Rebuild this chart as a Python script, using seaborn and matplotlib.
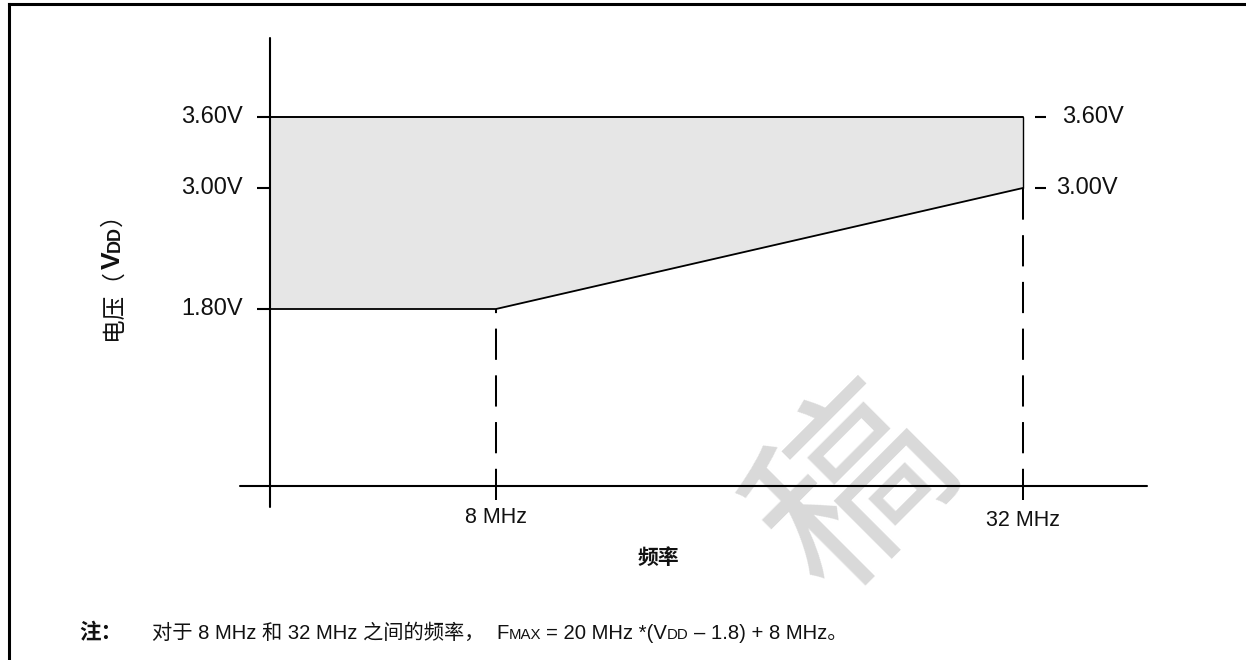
import numpy as np
import matplotlib
matplotlib.use("Agg")
import matplotlib.pyplot as plt
import seaborn as sns
from matplotlib.transforms import blended_transform_factory

# ---- data -------------------------------------------------------------
freq_mhz = [8, 32]                 # corner frequencies
vdd_min_v = [1.8, 3.0]             # minimum VDD at those frequencies
vdd_max_v = 3.6                    # maximum VDD
left_ticks_v = [3.6, 3.0, 1.8]
left_tick_labels = ["3.60V", "3.00V", "1.80V"]
right_ticks_v = [3.6, 3.0]
right_tick_labels = ["3.60V", "3.00V"]
freq_tick_labels = ["8 MHz", "32 MHz"]

# ---- figure setup -----------------------------------------------------
W, H, DPI = 1246, 660, 100
PX = 72.0 / DPI                    # points per pixel

sns.set_theme(style="white")
plt.rcParams["font.family"] = ["Liberation Sans", "Noto Sans CJK SC"]
LATIN = ["Liberation Sans", "Noto Sans CJK SC"]
CJK = ["Noto Sans CJK SC", "Liberation Sans"]
INK = "#111111"

fig = plt.figure(figsize=(W / DPI, H / DPI), dpi=DPI)
fig.patch.set_facecolor("white")
ax = fig.add_axes([0, 0, 1, 1])
ax.set_axis_off()

# schematic voltage axis: piecewise-linear spacing between the labelled levels
v_knots = np.array([-10.0, 0.0, 1.8, 3.0, 3.6, 10.0])
h_knots = np.array([-983.0, 0.0, 177.0, 298.0, 369.0, 1126.0])


def v_fwd(v):
    return np.interp(v, v_knots, h_knots)


def v_inv(h):
    return np.interp(h, h_knots, v_knots)


ax.set_yscale("function", functions=(v_fwd, v_inv))
ax.set_ylim(v_inv(-174.0), v_inv(486.0))
ax.set_xlim(-14.59, 42.16)

f_axis = -2.29                     # frequency position of the vertical axis line
tick_f = 0.6                       # tick length in frequency units
x_blend = blended_transform_factory(ax.transData, ax.transAxes)
y_blend = blended_transform_factory(ax.transAxes, ax.transData)

# ---- operating region -------------------------------------------------
region_f = [f_axis] + freq_mhz
region_lo = [vdd_min_v[0]] + vdd_min_v
ax.fill_between(region_f, region_lo, vdd_max_v, color="#e6e6e6", lw=0, zorder=1)

sns.lineplot(x=region_f, y=region_lo, ax=ax, color="black", lw=1.3,
             sort=False, estimator=None, zorder=3)
ax.plot([f_axis, freq_mhz[-1]], [vdd_max_v, vdd_max_v], color="black", lw=1.4, zorder=3)
ax.plot([freq_mhz[-1], freq_mhz[-1]], [vdd_min_v[-1], vdd_max_v], color="black",
        lw=1.0, zorder=3)

# dashed drop lines from the corners to the frequency axis
v_below = v_inv(-14.0)
for f, v in zip(freq_mhz, vdd_min_v):
    ax.plot([f, f], [v_below, v], color="black", lw=1.45,
            linestyle=(0, (15.5, 7.7)), zorder=3)

# ---- axes lines and ticks ---------------------------------------------
ax.plot([f_axis, f_axis], [(H - 507) / H, (H - 38) / H], transform=x_blend,
        color="black", lw=1.5, zorder=4)
ax.plot([240 / W, 1147 / W], [0, 0], transform=y_blend, color="black", lw=1.5, zorder=4)
ax.hlines(left_ticks_v, f_axis - tick_f, f_axis, color="black", lw=1.5, zorder=4)
ax.hlines(right_ticks_v, freq_mhz[-1] + 0.53, freq_mhz[-1] + 1.03, color="black",
          lw=1.5, zorder=4)

for v, lab in zip(left_ticks_v, left_tick_labels):
    ax.annotate(lab, xy=(f_axis, v), xytext=(-27 * PX, 0), textcoords="offset points",
                ha="right", va="center", fontsize=17, family=LATIN, color=INK)

for v, lab, dx in zip(right_ticks_v, right_tick_labels, [39, 33]):
    ax.annotate(lab, xy=(freq_mhz[-1], v), xytext=(dx * PX, 0), textcoords="offset points",
                ha="left", va="center", fontsize=17, family=LATIN, color=INK)

for f, lab, dy in zip(freq_mhz, freq_tick_labels, [31, 34]):
    ax.annotate(lab, xy=(f, 0), xytext=(0, -dy * PX), textcoords="offset points",
                ha="center", va="center", fontsize=15.5, family=LATIN, color=INK)

# ---- watermark --------------------------------------------------------
ax.text(856 / W, 1 - 492 / H, "稿", transform=ax.transAxes, rotation=45,
        fontsize=136, color="#d9d9d9", ha="center", va="center",
        family=CJK, zorder=0.5)

# ---- frame ------------------------------------------------------------
ax.plot([9 / W, 1.0], [1 - 4 / H, 1 - 4 / H], transform=ax.transAxes,
        color="black", lw=2.2, solid_capstyle="projecting", zorder=5, clip_on=False)
ax.plot([9 / W, 9 / W], [1 - 4 / H, 0.0], transform=ax.transAxes,
        color="black", lw=2.2, solid_capstyle="projecting", zorder=5, clip_on=False)

# ---- text runs with mixed fonts ---------------------------------------
renderer = fig.canvas.get_renderer()


def run_h(x_px, y_px, pieces):
    """Lay out text pieces left to right on a common baseline (pixel coords)."""
    x = x_px
    for item in pieces:
        if isinstance(item, (int, float)):
            x += item
            continue
        s, kw = item
        t = fig.text(x / W, 1 - y_px / H, s, ha="left", va="baseline", **kw)
        x += t.get_window_extent(renderer).width
    return x


def run_v(x_px, y_px, pieces):
    """Lay out rotated text pieces bottom to top on a common baseline."""
    y = y_px
    for item in pieces:
        if isinstance(item, (int, float)):
            y -= item
            continue
        s, kw = item
        t = fig.text(x_px / W, 1 - y / H, s, rotation=90, rotation_mode="anchor",
                     ha="left", va="baseline", **kw)
        y -= t.get_window_extent(renderer).height


cjk_reg = dict(family=CJK, fontsize=17, color=INK)
lat_b = dict(family=LATIN, fontsize=19, fontweight="bold", color=INK)
lat_bs = dict(family=LATIN, fontsize=13, fontweight="bold", color=INK)

# vertical axis title: 电压（VDD）
run_v(120, 340, [("电压（", cjk_reg), ("V", lat_b), ("DD", lat_bs), ("）", cjk_reg)])

# horizontal axis title
fig.text(658 / W, 1 - 557 / H, "频率", ha="center", va="center", family=CJK,
         fontsize=15, fontweight="bold", color=INK)

# footnote
note_main = dict(family=LATIN, fontsize=14.6, color=INK)
note_small = dict(family=LATIN, fontsize=10.8, color=INK)
fig.text(79 / W, 1 - 639 / H, "注：", ha="left", va="baseline", family=CJK,
         fontsize=15.5, fontweight="bold", color=INK)
sp = 5
run_h(152, 639, [
    ("对于 8 MHz 和 32 MHz 之间的频率，", note_main), 12,
    ("F", note_main), ("MAX", note_small), sp,
    ("= 20 MHz *(V", note_main), ("DD", note_small), sp,
    ("– 1.8) + 8 MHz。", note_main),
])

fig.savefig("out.png", dpi=DPI, facecolor="white")
